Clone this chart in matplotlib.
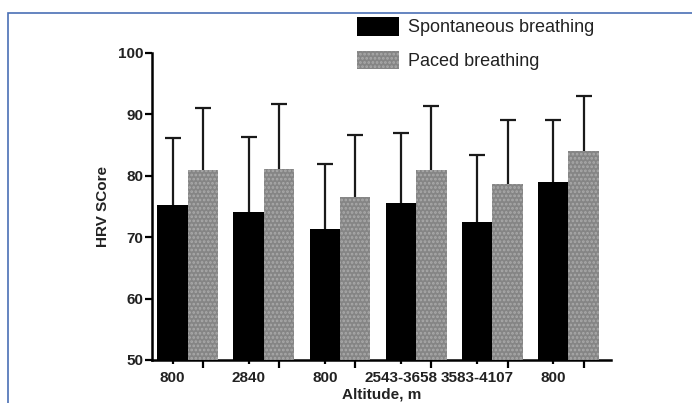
import matplotlib
matplotlib.use("Agg")
import matplotlib.pyplot as plt
from matplotlib.patches import Rectangle
import numpy as np

# Data
altitudes = ["800", "2840", "800", "2543-3658", "3583-4107", "800"]
spont_mean = [75.2, 74.1, 71.3, 75.5, 72.4, 79.0]
spont_sd = [10.9, 12.2, 10.6, 11.5, 11.0, 10.1]
paced_mean = [80.9, 81.1, 76.5, 81.0, 78.7, 84.0]
paced_sd = [10.1, 10.6, 10.2, 10.4, 10.4, 9.0]

plt.rcParams.update({
    "font.family": "Liberation Sans",
    "hatch.linewidth": 1.3,
})

fig = plt.figure(figsize=(6.92, 4.03), dpi=100)
ax = fig.add_axes([0.2197, 0.1067, 0.6633, 0.7618])

x = np.arange(len(altitudes))
width = 0.4
err_kw = dict(elinewidth=1.6, capsize=6, capthick=1.6, ecolor="#1a1a1a", zorder=1)

# lower error goes down to the axis so it hides behind the bar (upper SD only)
ax.bar(x - width / 2, spont_mean, width, color="black",
       yerr=[np.array(spont_mean) - 50, spont_sd], error_kw=err_kw,
       label="Spontaneous breathing", zorder=3)
ax.bar(x + width / 2, paced_mean, width, facecolor="#858585", hatch="....",
       edgecolor="#aaaaaa", linewidth=0,
       yerr=[np.array(paced_mean) - 50, paced_sd], error_kw=err_kw,
       label="Paced breathing", zorder=3)

ax.set_ylim(50, 100)
ax.set_xlim(-0.47, 5.56)
ax.set_yticks([50, 60, 70, 80, 90, 100])

# labels under black bars, longer tick marks under paced bars
ax.set_xticks(x - width / 2)
ax.set_xticklabels(altitudes)
ax.set_xticks(x + width / 2, minor=True)
ax.tick_params(axis="x", which="major", length=3, width=1.6, direction="out", pad=5)
ax.tick_params(axis="x", which="minor", length=6, width=1.6, direction="out")
ax.tick_params(axis="y", length=5, width=1.6, direction="out", pad=1)

for lbl in ax.get_xticklabels() + ax.get_yticklabels():
    lbl.set_fontweight("bold")
    lbl.set_fontsize(11)
    lbl.set_color("#222")

for side in ["top", "right"]:
    ax.spines[side].set_visible(False)
for side in ["left", "bottom"]:
    ax.spines[side].set_linewidth(1.8)

ax.set_ylabel("HRV SCore", fontsize=11, fontweight="bold", labelpad=6, color="#222")
ax.set_xlabel("Altitude, m", fontsize=11, fontweight="bold", labelpad=2, color="#222")

handles, labels = ax.get_legend_handles_labels()
fig.legend(handles, labels, loc="upper left", bbox_to_anchor=(0.493, 0.998),
           frameon=False, fontsize=13, handlelength=2.3, handleheight=1.2,
           labelspacing=0.8, handletextpad=0.5, labelcolor="#222")

# blue frame around the panel
fig.patches.append(Rectangle((8 / 692, -0.05), 1.0, (403 - 13) / 403 + 0.05,
                             transform=fig.transFigure, fill=False,
                             edgecolor="#4a6fb5", linewidth=1.2))

fig.savefig("out.png", dpi=100)
